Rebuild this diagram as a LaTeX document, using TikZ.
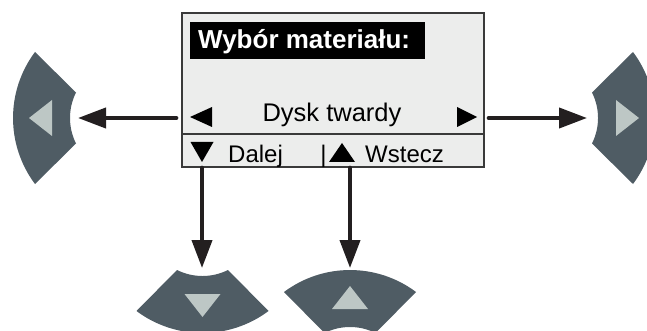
\documentclass[tikz,border=0pt]{standalone}
\usepackage{fontspec}
\setmainfont{Liberation Sans}
\usetikzlibrary{arrows.meta}
\definecolor{btnfill}{HTML}{4F5C64}
\definecolor{btnmark}{HTML}{BDC7C5}
\definecolor{scrfill}{HTML}{ECEDEC}
\definecolor{scrline}{HTML}{3A3A3A}
\definecolor{arrcol}{HTML}{231F20}
\tikzset{
  arr/.style={draw=arrcol, line width=4pt, line cap=round, -{Triangle[length=28pt,width=20pt]}},
  screenbox/.style={draw=scrline, fill=scrfill, line width=1.3pt, inner sep=0pt, minimum width=302pt, minimum height=154pt},
  titlebg/.style={fill=black, inner sep=0pt, minimum width=235pt, minimum height=37pt},
  lcdtext/.style={inner sep=0pt, text=black},
  marker/.style={fill=black},
  dbtn/.pic={
    \fill[btnfill] (-25.5,0) .. controls (-9.43,-8.01) and (9.43,-8.01) .. (25.5,0)
      -- (66,-41) .. controls (26.9,-70.3) and (-26.9,-70.3) .. (-66,-41) -- cycle;
    \fill[btnmark] (-18,-24) -- (18,-24) -- (0,-47) -- cycle;
  }
}
\begin{document}
\begin{tikzpicture}[x=1pt,y=-1pt]
\clip (0,0) rectangle (647,331);
% screen
\node[screenbox] (scr) at (333,90) {};
\draw[scrline, line width=1.1pt] (scr.west |- 0,134) -- (scr.east |- 0,134);
\node[titlebg] (tbg) at (307.5,40.5) {};
\node[lcdtext, text=white, anchor=base west, font=\bfseries\fontsize{26}{30}\selectfont] (ttl) at (198,49) {Wybór materiału:};
\node[lcdtext, anchor=base, font=\fontsize{25.5}{30}\selectfont] (dysk) at (332,122) {Dysk twardy};
\fill[marker] (190,117) -- (212,107) -- (212,127) -- cycle;
\fill[marker] (477,117) -- (457,107) -- (457,127) -- cycle;
\fill[marker] (190.5,142) -- (213.5,142) -- (202,162) -- cycle;
\fill[marker] (329,162) -- (355,162) -- (342,143) -- cycle;
\node[lcdtext, anchor=base west, font=\fontsize{24}{28}\selectfont] (dalej) at (228,163) {Dalej};
\node[lcdtext, anchor=base, font=\fontsize{24}{28}\selectfont] (bar) at (323.5,163) {|};
\node[lcdtext, anchor=base west, font=\fontsize{24}{28}\selectfont] (wstecz) at (365,163) {Wstecz};
% buttons
\pic[rotate=90] at (76,118) {dbtn};
\pic[rotate=-90] at (592,118) {dbtn};
\pic[rotate=180] at (202.5,270) {dbtn};
\pic at (350,333) {dbtn};
% arrow targets
\coordinate (lt) at (78,118);
\coordinate (rt) at (587,118);
\coordinate (dt) at (202,268);
\coordinate (ut) at (350,268);
\draw[arr, shorten <=5pt] (scr.west |- lt) -- (lt);
\draw[arr, shorten <=4pt] (scr.east |- rt) -- (rt);
\draw[arr] (scr.south -| dt) -- (dt);
\draw[arr] (scr.south -| ut) -- (ut);
\end{tikzpicture}
\end{document}
